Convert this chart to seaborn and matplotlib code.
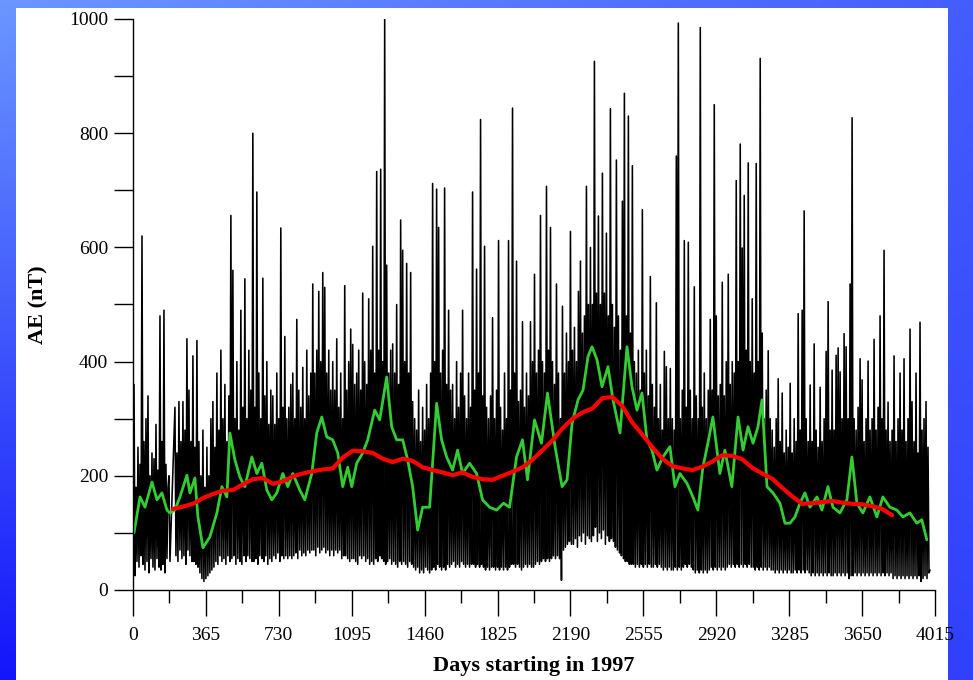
import numpy as np
import pandas as pd
import matplotlib
matplotlib.use("Agg")
import matplotlib.pyplot as plt
from matplotlib.patches import Rectangle
from matplotlib.ticker import MultipleLocator
import seaborn as sns

# ---------------------------------------------------------------
# AE index (nT) every 5 days, with a data gap between day 185 and
# day 210.  One row per 100 days.
# ---------------------------------------------------------------
ae_days = list(range(0, 190, 5)) + list(range(210, 3995, 5))
ae_values = (
    [30, 360, 25, 180, 50, 250, 40, 220, 60, 620, 45, 260, 35, 300, 50, 340, 30, 200, 55, 240]
    + [40, 230, 35, 290, 55, 210, 40, 480, 35, 260, 45, 490, 30, 220, 55, 180, 200, 50]
    + [320, 60, 240, 50, 330, 70, 260, 55, 330, 60, 280, 45, 440, 70, 350, 60, 260, 50]
    + [410, 50, 250, 45, 437, 40, 260, 30, 200, 20, 280, 15, 180, 20, 250, 25, 200, 30, 300, 35]
    + [330, 40, 250, 50, 380, 45, 280, 60, 420, 50, 300, 55, 360, 45, 260, 60, 340, 50, 656, 55]
    + [560, 60, 300, 45, 400, 55, 280, 50, 490, 45, 320, 60, 545, 50, 300, 60, 420, 55, 350, 50]
    + [800, 50, 320, 55, 697, 45, 380, 60, 300, 55, 546, 50, 340, 60, 400, 45, 290, 55, 350, 50]
    + [340, 60, 290, 55, 380, 65, 300, 50, 634, 60, 320, 55, 444, 60, 300, 55, 320, 60, 360, 55]
    + [380, 60, 300, 65, 474, 55, 350, 70, 320, 60, 390, 65, 300, 60, 420, 70, 340, 65, 380, 70]
    + [536, 70, 380, 60, 420, 75, 523, 65, 400, 70, 556, 75, 530, 65, 380, 70, 420, 60, 350, 70]
    + [400, 60, 350, 70, 440, 65, 320, 70, 380, 55, 300, 60, 533, 60, 350, 55, 400, 50, 457, 55]
    + [430, 55, 360, 50, 380, 45, 420, 60, 350, 55, 520, 60, 400, 50, 360, 55, 510, 45, 420, 50]
    + [602, 45, 380, 55, 733, 50, 420, 60, 737, 55, 400, 50, 1002, 45, 569, 50, 380, 55, 420, 45]
    + [431, 50, 380, 45, 500, 40, 360, 50, 648, 45, 595, 50, 400, 45, 572, 40, 380, 50, 556, 45]
    + [330, 40, 300, 35, 280, 40, 350, 30, 260, 35, 320, 30, 280, 40, 360, 35, 300, 30, 380, 35]
    + [712, 40, 400, 35, 702, 45, 635, 40, 380, 35, 420, 40, 704, 35, 360, 45, 490, 40, 350, 45]
    + [360, 50, 300, 40, 400, 45, 320, 40, 380, 50, 490, 45, 340, 40, 300, 45, 380, 40, 320, 45]
    + [697, 45, 350, 40, 562, 45, 380, 40, 824, 45, 340, 40, 602, 35, 320, 40, 300, 35, 340, 40]
    + [477, 40, 300, 35, 350, 40, 612, 35, 320, 40, 280, 35, 380, 40, 300, 35, 612, 40, 350, 45]
    + [844, 45, 380, 40, 576, 45, 330, 40, 350, 35, 470, 40, 320, 45, 380, 40, 340, 45, 470, 40]
    + [400, 40, 553, 45, 380, 50, 420, 45, 656, 50, 400, 55, 380, 50, 707, 55, 420, 50, 635, 55]
    + [400, 60, 360, 55, 536, 60, 380, 55, 300, 17, 497, 70, 380, 75, 450, 80, 400, 85, 628, 80]
    + [420, 80, 460, 90, 400, 75, 523, 95, 576, 85, 450, 100, 480, 80, 707, 95, 500, 90, 600, 85]
    + [500, 95, 926, 110, 520, 85, 655, 100, 500, 90, 730, 105, 520, 80, 625, 95, 480, 85, 843, 90]
    + [500, 85, 460, 75, 753, 70, 480, 65, 420, 60, 681, 55, 870, 50, 480, 50, 830, 45, 450, 45]
    + [743, 45, 400, 40, 380, 45, 420, 40, 350, 45, 666, 40, 380, 45, 420, 40, 340, 45, 549, 40]
    + [360, 40, 320, 45, 503, 40, 300, 45, 360, 40, 280, 35, 418, 40, 391, 35, 300, 40, 388, 35]
    + [300, 35, 280, 40, 760, 35, 993, 40, 300, 35, 350, 40, 612, 45, 320, 40, 609, 45, 350, 40]
    + [300, 35, 531, 30, 340, 35, 300, 30, 985, 35, 320, 30, 380, 35, 300, 30, 350, 35, 474, 40]
    + [350, 35, 850, 40, 480, 35, 340, 40, 360, 35, 539, 40, 340, 35, 400, 40, 553, 45, 360, 40]
    + [400, 45, 380, 40, 717, 45, 400, 40, 781, 45, 599, 40, 691, 45, 420, 40, 748, 45, 400, 40]
    + [510, 40, 380, 35, 747, 40, 400, 35, 931, 40, 450, 35, 300, 40, 350, 35, 419, 40, 300, 35]
    + [280, 35, 250, 30, 300, 35, 370, 30, 260, 35, 345, 30, 240, 35, 280, 30, 250, 35, 362, 30]
    + [240, 30, 300, 35, 260, 30, 484, 35, 280, 30, 490, 35, 664, 30, 300, 35, 260, 30, 359, 25]
    + [260, 30, 431, 25, 280, 30, 250, 25, 355, 30, 260, 25, 300, 30, 418, 25, 505, 30, 280, 25]
    + [385, 25, 280, 30, 411, 25, 424, 30, 382, 25, 300, 30, 449, 25, 426, 30, 300, 20, 536, 25]
    + [827, 25, 300, 30, 280, 25, 320, 30, 405, 25, 368, 30, 260, 25, 300, 30, 401, 25, 280, 30]
    + [300, 25, 439, 30, 280, 25, 320, 30, 480, 25, 300, 30, 595, 25, 280, 30, 329, 25, 260, 30]
    + [280, 20, 410, 25, 260, 20, 300, 25, 380, 20, 280, 25, 405, 20, 260, 25, 300, 20, 457, 25]
    + [330, 20, 260, 25, 380, 20, 240, 25, 469, 15, 280, 20, 300, 25, 330, 20, 250, 30, 35]
)

# 27-day running mean of AE
mean27_days = [5, 35, 60, 95, 120, 145, 170, 185, 210, 235, 270, 285, 310,
               325, 350, 385, 420, 445, 470, 485, 510, 535, 560, 595, 620,
               645, 670, 695, 720, 750, 775, 800, 835, 860, 895, 920, 945,
               970, 1000, 1025, 1050, 1075, 1095, 1120, 1150, 1175, 1210,
               1235, 1270, 1295, 1320, 1350, 1375, 1400, 1425, 1450, 1485,
               1520, 1545, 1570, 1600, 1625, 1650, 1685, 1720, 1750, 1785,
               1820, 1855, 1885, 1920, 1950, 1975, 2010, 2045, 2075, 2113,
               2148, 2173, 2198, 2228, 2253, 2278, 2298, 2323, 2348, 2378,
               2403, 2438, 2473, 2498, 2523, 2548, 2573, 2598, 2623, 2653,
               2688, 2713, 2738, 2773, 2803, 2828, 2853, 2878, 2903, 2938,
               2963, 2998, 3029, 3054, 3079, 3104, 3129, 3149, 3174, 3204,
               3239, 3264, 3289, 3314, 3339, 3364, 3389, 3424, 3449, 3479,
               3504, 3539, 3574, 3599, 3624, 3654, 3689, 3724, 3754, 3789,
               3824, 3854, 3889, 3924, 3949, 3974]
mean27_values = [100, 163, 145, 189, 158, 170, 140, 135, 140, 163, 201, 170,
                 196, 128, 74, 93, 135, 181, 163, 275, 228, 198, 181, 233,
                 204, 222, 175, 158, 170, 204, 181, 204, 175, 158, 204, 275,
                 303, 268, 263, 240, 181, 215, 181, 222, 240, 263, 315, 298,
                 373, 286, 263, 263, 228, 181, 105, 145, 145, 327, 263, 233,
                 210, 245, 204, 222, 204, 158, 145, 140, 152, 145, 233, 263,
                 193, 298, 257, 345, 251, 181, 193, 292, 333, 350, 409, 426,
                 403, 356, 391, 333, 275, 426, 356, 315, 345, 263, 245, 210,
                 233, 251, 181, 204, 187, 163, 140, 215, 257, 303, 204, 245,
                 181, 303, 245, 286, 257, 286, 333, 181, 170, 152, 117, 117,
                 128, 152, 170, 145, 163, 140, 181, 145, 135, 158, 233, 152,
                 135, 163, 128, 163, 145, 140, 128, 135, 117, 123, 88]

# 365-day running mean of AE
mean365_days = list(range(200, 3801, 50))
mean365_values = [142, 146, 151, 161, 168, 174, 175, 185, 194, 196, 186, 190,
                  199, 204, 208, 211, 213, 232, 244, 243, 240, 230, 224, 230,
                  226, 215, 210, 206, 201, 206, 198, 194, 193, 200, 207, 215,
                  228, 245, 262, 283, 300, 311, 318, 336, 338, 322, 293, 272,
                  250, 230, 217, 213, 210, 216, 225, 236, 235, 229, 214, 204,
                  195, 179, 164, 151, 152, 154, 156, 153, 151, 150, 147, 142,
                  131]

x_ticks = list(range(0, 4016, 365))
y_ticks = [0, 200, 400, 600, 800, 1000]

daily = pd.DataFrame({"day": ae_days, "AE": ae_values})
month = pd.DataFrame({"day": mean27_days, "AE": mean27_values})
year = pd.DataFrame({"day": mean365_days, "AE": mean365_values})

sns.set_style("ticks")
plt.rcParams["font.family"] = ["Liberation Serif", "DejaVu Serif"]
plt.rcParams["axes.edgecolor"] = "black"
plt.rcParams["axes.labelcolor"] = "black"
plt.rcParams["text.color"] = "black"
plt.rcParams["xtick.color"] = "black"
plt.rcParams["ytick.color"] = "black"

W, H = 973, 680
fig = plt.figure(figsize=(W / 100, H / 100), dpi=100)

# slide backdrop: blue gradient frame around a white panel
bg = fig.add_axes([0, 0, 1, 1], zorder=0)
bg.set_axis_off()
yy, xx = np.mgrid[0:1:240j, 0:1:320j]
t = (1 - xx) * (0.05 + 0.9 * yy) + xx * (0.45 + 0.2 * yy)
t = np.clip(t, 0, 1)[..., None]
light = np.array([112, 158, 255]) / 255
dark = np.array([14, 14, 250]) / 255
bg.imshow(light * (1 - t) + dark * t, aspect="auto", extent=[0, 1, 0, 1])
bg.add_patch(Rectangle((16 / W, 0), (948 - 16) / W, (H - 8) / H,
                       transform=bg.transAxes, facecolor="white",
                       edgecolor="none"))
bg.set_xlim(0, 1)
bg.set_ylim(0, 1)

ax = fig.add_axes([133 / W, (H - 590) / H, (935 - 133) / W, (590 - 19) / H],
                  zorder=2)
ax.patch.set_alpha(0)

sns.lineplot(data=daily, x="day", y="AE", ax=ax, color="black",
             linewidth=1.15, sort=False, estimator=None)
sns.lineplot(data=month, x="day", y="AE", ax=ax, color="#33cc33",
             linewidth=2.0, sort=False, estimator=None)
sns.lineplot(data=year, x="day", y="AE", ax=ax, color="#ff0000",
             linewidth=3.0, sort=False, estimator=None)

ax.set_xlim(0, 4015)
ax.set_ylim(0, 1000)
ax.set_xticks(x_ticks)
ax.set_xticklabels([str(v) for v in x_ticks])
ax.xaxis.set_minor_locator(MultipleLocator(182.5))
ax.set_yticks(y_ticks)
ax.set_yticklabels([str(v) for v in y_ticks])
ax.yaxis.set_minor_locator(MultipleLocator(100))
sns.despine(ax=ax)
for s in ("left", "bottom"):
    ax.spines[s].set_linewidth(1.0)
    ax.spines[s].set_color("black")

ax.tick_params(axis="x", which="major", direction="out", length=19,
               width=1, pad=8, labelsize=14)
ax.tick_params(axis="x", which="minor", direction="out", length=9, width=1)
ax.tick_params(axis="y", which="both", direction="out", length=14,
               width=1, pad=4, labelsize=14)

ax.set_xlabel("Days starting in 1997", fontsize=16, fontweight="bold",
              labelpad=8, color="black")
ax.set_ylabel("AE (nT)", fontsize=16, fontweight="bold", labelpad=15,
              color="black")

fig.savefig("out.png", dpi=100)
